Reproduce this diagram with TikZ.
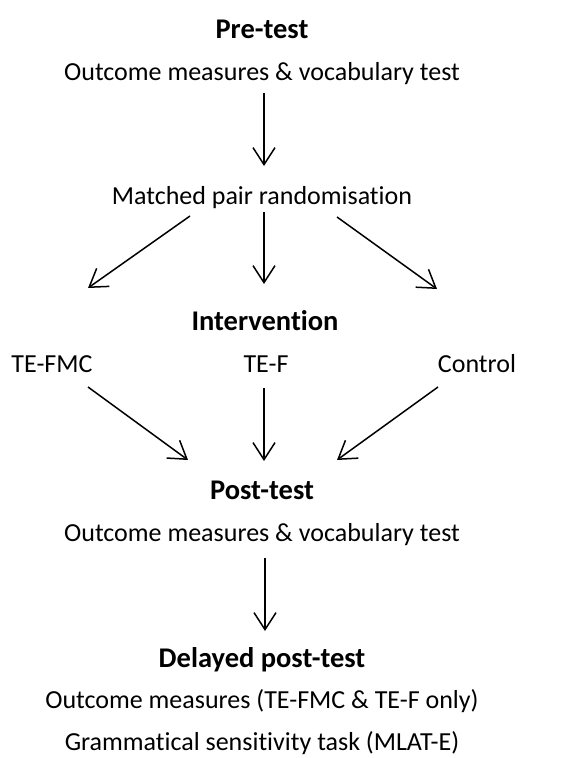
\documentclass[tikz,border=0pt]{standalone}
\usepackage{fontspec}
\setmainfont[RawFeature=-liga]{Carlito}
\usetikzlibrary{arrows.meta}
\begin{document}
\begin{tikzpicture}[x=1pt,y=-1pt,
  txt/.style={inner sep=0pt,anchor=base,font=\fontsize{26}{30}\selectfont},
  head/.style={txt,font=\fontsize{28.5}{32}\selectfont\bfseries},
  conn/.style={line width=1.5pt,-{Straight Barb[length=17pt,width=22pt,line width=1.5pt]}}]
\useasboundingbox (0,0) rectangle (583,758);
\node[head] (pre) at (262,38) {Pre-test};
\node[txt] (preo) at (262,80) {Outcome measures \& vocabulary test};
\node[txt] (match) at (262,204) {Matched pair randomisation};
\node[head] (int) at (265,330) {Intervention};
\node[txt] (fmc) at (52,372) {TE-FMC};
\node[txt] (tef) at (266,372) {TE-F};
\node[txt] (ctl) at (477,372) {Control};
\node[head] (post) at (262,499) {Post-test};
\node[txt] (posto) at (262,541) {Outcome measures \& vocabulary test};
\node[head] (del) at (262,667) {Delayed post-test};
\node[txt] (delo) at (262,708) {Outcome measures (TE-FMC \& TE-F only)};
\node[txt] (gram) at (262,750) {Grammatical sensitivity task (MLAT-E)};
% arrow endpoints
\coordinate (a1s) at (264,93);   \coordinate (a1e) at (264,166);
\coordinate (mls) at (190,216);  \coordinate (mle) at (88,288);
\coordinate (mcs) at (264,212);  \coordinate (mce) at (264,284);
\coordinate (mrs) at (337,217);  \coordinate (mre) at (437,289);
\coordinate (pls) at (88,387);   \coordinate (ple) at (188,460);
\coordinate (pcs) at (264,388);  \coordinate (pce) at (264,461);
\coordinate (prs) at (438,387);  \coordinate (pre2) at (337,460);
\coordinate (a2s) at (265,558);  \coordinate (a2e) at (265,631);
\draw[conn] (a1s) -- (a1e);
\draw[conn] (mls) -- (mle);
\draw[conn] (mcs) -- (mce);
\draw[conn] (mrs) -- (mre);
\draw[conn] (pls) -- (ple);
\draw[conn] (pcs) -- (pce);
\draw[conn] (prs) -- (pre2);
\draw[conn] (a2s) -- (a2e);
\end{tikzpicture}
\end{document}
